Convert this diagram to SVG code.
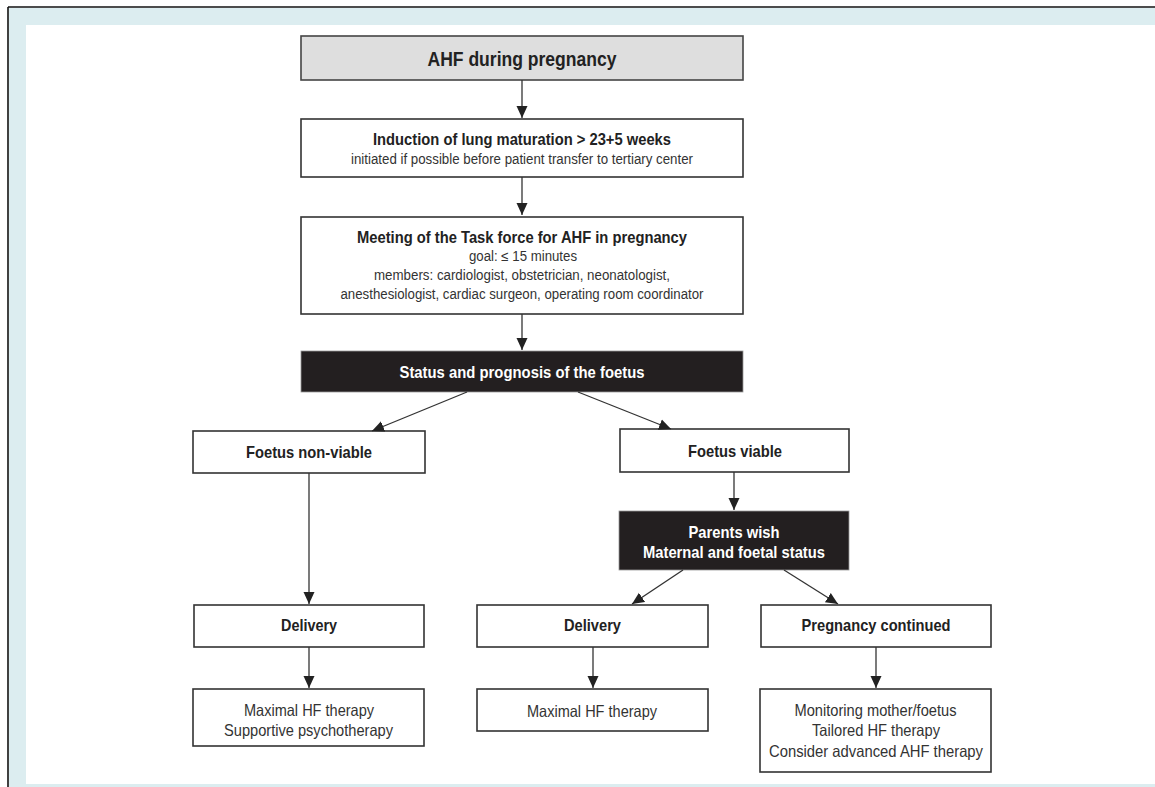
<svg xmlns="http://www.w3.org/2000/svg" width="1155" height="787" viewBox="0 0 1155 787">
<defs>
<marker id="ah" markerUnits="userSpaceOnUse" markerWidth="12" markerHeight="14" viewBox="0 0 12 14" refX="12" refY="7" orient="auto">
<path d="M0,1.5 L12,7 L0,12.5 Z" fill="#222"/>
</marker>
<style>
.box{fill:#fff;stroke:#333;stroke-width:1.6}
.gray{fill:#dedede;stroke:#444;stroke-width:1.6}
.blk{fill:#231f20;stroke:#999;stroke-width:0.8}
.b{font-family:"Liberation Sans",Arial,sans-serif;font-weight:bold;fill:#222;text-anchor:middle}
.r{font-family:"Liberation Sans",Arial,sans-serif;fill:#333;text-anchor:middle}
.w{fill:#fff}
.con line{stroke:#333;stroke-width:1.3;marker-end:url(#ah)}
</style>
</defs>
<rect x="0" y="0" width="1155" height="787" fill="#fff"/>
<g id="frame">
<rect x="9" y="8" width="1146" height="17" fill="#dcedf0"/>
<rect x="9" y="8" width="17" height="779" fill="#dcedf0"/>
<rect x="9" y="784" width="1146" height="3" fill="#dcedf0"/>
<line x1="8" y1="7" x2="1155" y2="7" stroke="#111" stroke-width="1.6"/>
<line x1="8" y1="7" x2="8" y2="787" stroke="#111" stroke-width="1.6"/>
</g>
<g id="n-ahf">
<rect class="gray" x="301" y="36" width="442" height="44"/>
<text class="b" x="522" y="66" font-size="19.5" textLength="189" lengthAdjust="spacingAndGlyphs">AHF during pregnancy</text>
</g>
<g id="n-induction">
<rect class="box" x="301" y="119" width="442" height="58"/>
<text class="b" x="522" y="145" font-size="16.5" textLength="298" lengthAdjust="spacingAndGlyphs">Induction of lung maturation &gt; 23+5 weeks</text>
<text class="r" x="522" y="164" font-size="14" textLength="342" lengthAdjust="spacingAndGlyphs">initiated if possible before patient transfer to tertiary center</text>
</g>
<g id="n-meeting">
<rect class="box" x="301" y="217" width="442" height="97"/>
<text class="b" x="522" y="243" font-size="16.5" textLength="330" lengthAdjust="spacingAndGlyphs">Meeting of the Task force for AHF in pregnancy</text>
<text class="r" x="523" y="261" font-size="14" textLength="108" lengthAdjust="spacingAndGlyphs">goal: ≤ 15 minutes</text>
<text class="r" x="522" y="280" font-size="14" textLength="296" lengthAdjust="spacingAndGlyphs">members: cardiologist, obstetrician, neonatologist,</text>
<text class="r" x="522" y="299" font-size="14" textLength="363" lengthAdjust="spacingAndGlyphs">anesthesiologist, cardiac surgeon, operating room coordinator</text>
</g>
<g id="n-status">
<rect class="blk" x="301" y="351" width="442" height="41"/>
<text class="b w" x="522" y="378" font-size="16.5" textLength="245" lengthAdjust="spacingAndGlyphs">Status and prognosis of the foetus</text>
</g>
<g id="n-nonviable">
<rect class="box" x="193" y="431" width="232" height="42"/>
<text class="b" x="309" y="458" font-size="16.5" textLength="126" lengthAdjust="spacingAndGlyphs">Foetus non-viable</text>
</g>
<g id="n-viable">
<rect class="box" x="620" y="429" width="229" height="43"/>
<text class="b" x="735" y="457" font-size="16.5" textLength="94" lengthAdjust="spacingAndGlyphs">Foetus viable</text>
</g>
<g id="n-parents">
<rect class="blk" x="619" y="511" width="230" height="59"/>
<text class="b w" x="734" y="538" font-size="16.5" textLength="91" lengthAdjust="spacingAndGlyphs">Parents wish</text>
<text class="b w" x="734" y="558" font-size="16.5" textLength="182" lengthAdjust="spacingAndGlyphs">Maternal and foetal status</text>
</g>
<g id="n-delivery1">
<rect class="box" x="194" y="605" width="230" height="42"/>
<text class="b" x="309" y="631" font-size="16.5" textLength="56" lengthAdjust="spacingAndGlyphs">Delivery</text>
</g>
<g id="n-delivery2">
<rect class="box" x="477" y="605" width="231" height="42"/>
<text class="b" x="592.5" y="631" font-size="16.5" textLength="57" lengthAdjust="spacingAndGlyphs">Delivery</text>
</g>
<g id="n-continued">
<rect class="box" x="761" y="605" width="230" height="42"/>
<text class="b" x="876" y="631" font-size="16.5" textLength="149" lengthAdjust="spacingAndGlyphs">Pregnancy continued</text>
</g>
<g id="n-therapy1">
<rect class="box" x="193" y="689" width="231" height="57"/>
<text class="r" x="309" y="716" font-size="16.5" textLength="130" lengthAdjust="spacingAndGlyphs">Maximal HF therapy</text>
<text class="r" x="308.5" y="736" font-size="16.5" textLength="169" lengthAdjust="spacingAndGlyphs">Supportive psychotherapy</text>
</g>
<g id="n-therapy2">
<rect class="box" x="477" y="689" width="231" height="42"/>
<text class="r" x="592" y="716.5" font-size="16.5" textLength="130" lengthAdjust="spacingAndGlyphs">Maximal HF therapy</text>
</g>
<g id="n-therapy3">
<rect class="box" x="760" y="689" width="231" height="83"/>
<text class="r" x="875.5" y="716" font-size="16.5" textLength="162" lengthAdjust="spacingAndGlyphs">Monitoring mother/foetus</text>
<text class="r" x="876" y="736" font-size="16.5" textLength="128" lengthAdjust="spacingAndGlyphs">Tailored HF therapy</text>
<text class="r" x="876" y="757" font-size="16.5" textLength="214" lengthAdjust="spacingAndGlyphs">Consider advanced AHF therapy</text>
</g>
<g id="connectors" class="con">
<line x1="522" y1="80" x2="522" y2="118"/>
<line x1="522" y1="177" x2="522" y2="215"/>
<line x1="522" y1="314" x2="522" y2="350"/>
<line x1="467" y1="392" x2="372" y2="431"/>
<line x1="578" y1="392" x2="671" y2="429"/>
<line x1="309" y1="473" x2="309" y2="604"/>
<line x1="734" y1="472" x2="734" y2="510"/>
<line x1="683" y1="570" x2="632" y2="604"/>
<line x1="784" y1="570" x2="838" y2="604"/>
<line x1="309" y1="647" x2="309" y2="688"/>
<line x1="593" y1="647" x2="593" y2="688"/>
<line x1="876" y1="647" x2="876" y2="688"/>
</g>
</svg>
